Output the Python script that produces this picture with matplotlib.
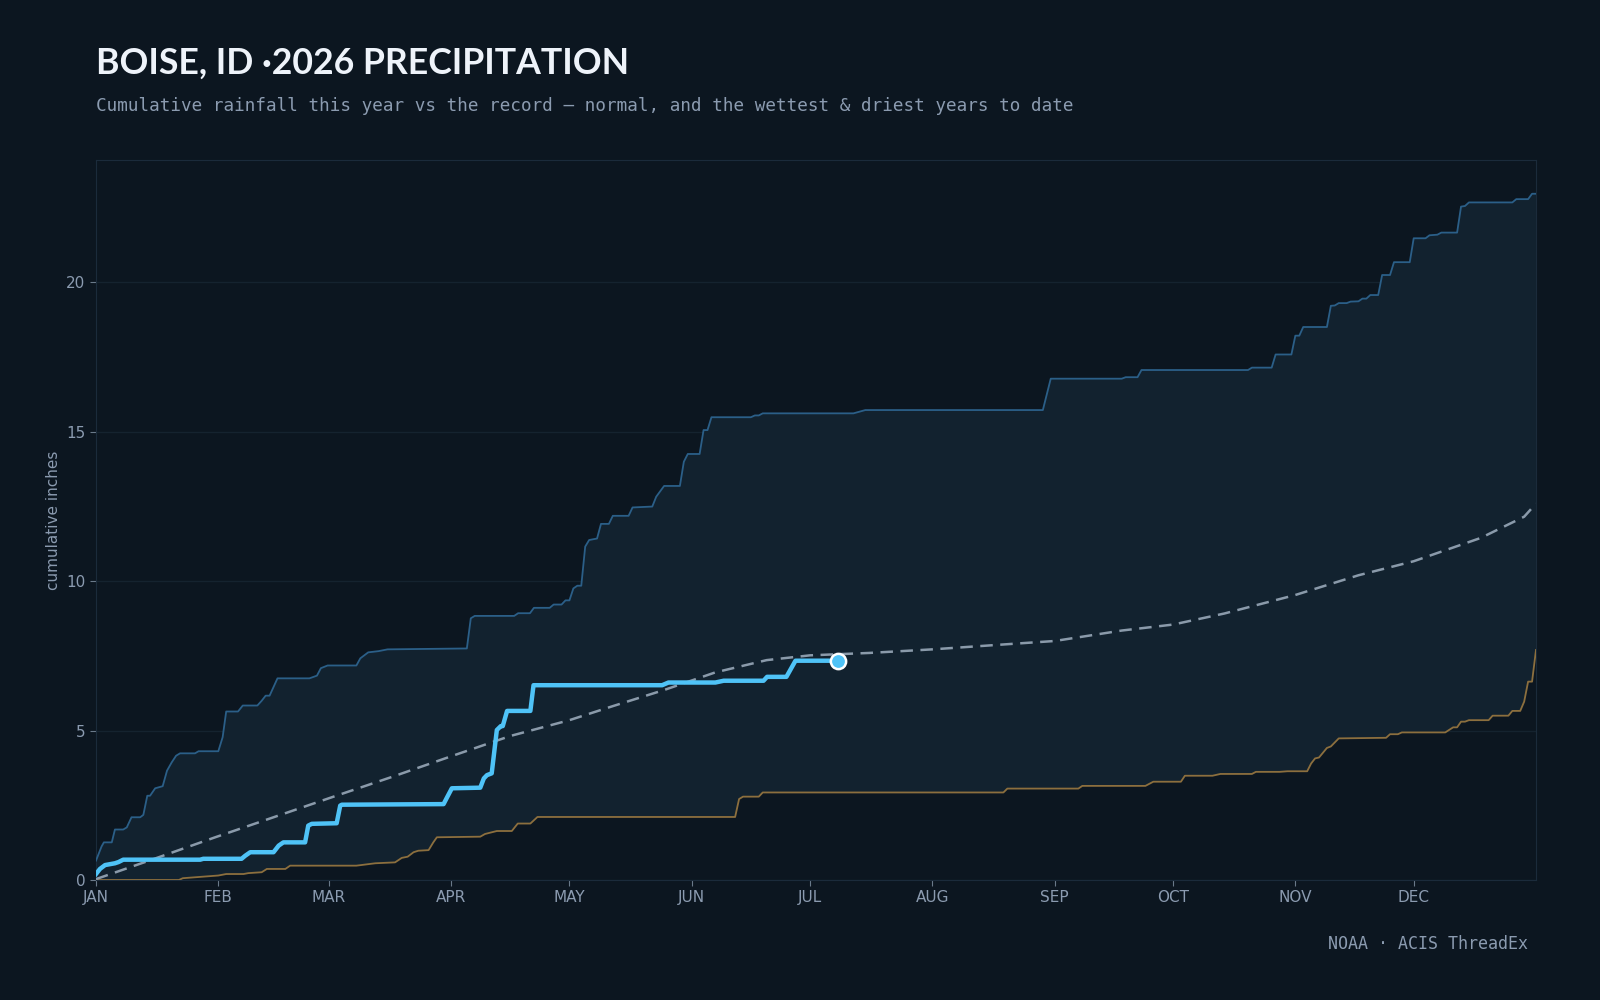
import numpy as np
import matplotlib
matplotlib.use('Agg')
import matplotlib.pyplot as plt

# cumulative precipitation, Boise ID; x = day of year (0 = Jan 1), y = inches

# wettest year to date (upper edge of the record band)
wet_days = [0, 1.4, 2, 4, 4.8, 6.9, 7.8, 9, 11.2, 12, 13, 13.7, 15, 16.9, 18, 19.2, 20.3, 21.3, 25.1, 26,
            31, 32.1, 33, 36, 37.2, 40.9, 42, 43, 44, 46, 54.1, 56, 57, 58.7, 66, 67, 69, 71.6, 73.9, 94,
            95, 96, 106, 107, 110, 111, 115, 116, 118, 119, 120, 121, 122, 123, 124, 125, 127, 128, 130, 131,
            135, 136, 141, 142, 144, 148, 149, 150, 153, 154, 155, 156, 166, 167, 168, 169, 192, 195, 240, 242,
            260, 261, 264, 265, 292, 293, 298, 299, 303, 304, 305, 306, 312, 313, 314, 315, 317, 318, 320, 321,
            322, 323, 325, 326, 328, 329, 333, 334, 337, 338, 340, 341, 345, 346, 347, 348, 359, 360, 363, 364, 365]
wet_vals = [0.65, 1.12, 1.26, 1.26, 1.69, 1.69, 1.76, 2.10, 2.10, 2.18, 2.82, 2.82, 3.07, 3.14, 3.66, 3.94, 4.16, 4.24, 4.24, 4.31,
            4.31, 4.78, 5.64, 5.64, 5.84, 5.84, 6.00, 6.17, 6.17, 6.75, 6.75, 6.84, 7.09, 7.18, 7.18, 7.42, 7.62, 7.66, 7.72, 7.75,
            8.76, 8.84, 8.84, 8.93, 8.93, 9.11, 9.11, 9.22, 9.22, 9.36, 9.36, 9.76, 9.85, 9.85, 11.16, 11.38, 11.43, 11.92, 11.92, 12.19,
            12.19, 12.47, 12.50, 12.83, 13.19, 13.19, 14.00, 14.26, 14.26, 15.06, 15.06, 15.49, 15.49, 15.55, 15.55, 15.62, 15.62, 15.73, 15.73, 16.78,
            16.78, 16.83, 16.83, 17.07, 17.07, 17.15, 17.15, 17.59, 17.59, 18.22, 18.22, 18.51, 18.51, 19.22, 19.23, 19.31, 19.31, 19.36, 19.37, 19.46,
            19.46, 19.58, 19.58, 20.25, 20.25, 20.68, 20.68, 21.48, 21.48, 21.58, 21.60, 21.67, 21.67, 22.54, 22.56, 22.68, 22.68, 22.79, 22.79, 22.97, 22.97]

# driest year to date (lower edge of the record band)
dry_days = [0, 21, 22, 27, 31, 33, 37.4, 38.6, 42, 43.3, 48, 49.2, 66, 70.8, 75.8, 77.5, 79, 80.5, 81.7, 84.3,
            85.5, 86.4, 97.4, 98.6, 101.6, 105.4, 106.9, 110.1, 111.9, 162, 163, 164, 168, 169, 230, 231, 249, 250, 266, 268,
            275, 276, 283, 285, 293, 294, 300, 302, 307, 308, 309, 310, 312, 313, 315, 327, 328, 330, 331, 342,
            344, 345, 346, 347, 348, 353, 354, 358, 359, 361, 362, 363, 364, 365]
dry_vals = [0.00, 0.00, 0.06, 0.11, 0.15, 0.20, 0.20, 0.23, 0.26, 0.37, 0.37, 0.48, 0.48, 0.56, 0.59, 0.74, 0.78, 0.93, 0.98, 1.00,
            1.26, 1.43, 1.45, 1.54, 1.64, 1.64, 1.89, 1.89, 2.11, 2.11, 2.71, 2.79, 2.79, 2.93, 2.93, 3.06, 3.06, 3.15, 3.15, 3.29,
            3.29, 3.49, 3.49, 3.55, 3.55, 3.62, 3.62, 3.64, 3.64, 3.90, 4.07, 4.10, 4.42, 4.47, 4.74, 4.76, 4.88, 4.88, 4.94, 4.94,
            5.11, 5.11, 5.30, 5.30, 5.35, 5.35, 5.50, 5.50, 5.66, 5.66, 5.97, 6.64, 6.64, 7.70]

# 30-year normal
normal_days = [0, 15, 30, 45, 60, 75, 90, 105, 120, 131, 144, 157, 170, 181, 196, 212, 234, 243,
               260, 273, 286, 304, 320, 334, 351, 362, 365]
normal_vals = [0.03, 0.72, 1.42, 2.10, 2.78, 3.45, 4.14, 4.82, 5.35, 5.82, 6.36, 6.95, 7.36, 7.52, 7.60, 7.72, 7.92, 8.00,
               8.35, 8.55, 8.92, 9.54, 10.20, 10.67, 11.45, 12.16, 12.60]

# 2026 so far
year_days = [0, 1, 2.3, 4.8, 5.7, 6.9, 26.4, 27.2, 36.9, 37.8, 39.1, 45, 46.3, 47.5, 53, 53.8, 54.7, 61, 61.9, 62.3,
             88.1, 89, 90.2, 97.4, 98.3, 99.1, 100.3, 101.6, 102.6, 103.1, 104.2, 110.1, 110.9, 143.5, 145.1, 157, 159.1, 169.2, 170.1, 175,
             177.3, 188.2]
year_vals = [0.20, 0.37, 0.50, 0.56, 0.60, 0.68, 0.68, 0.71, 0.71, 0.81, 0.93, 0.93, 1.15, 1.26, 1.26, 1.82, 1.88, 1.90, 2.49, 2.52,
             2.54, 2.77, 3.07, 3.09, 3.40, 3.51, 3.57, 5.02, 5.15, 5.15, 5.66, 5.66, 6.52, 6.52, 6.61, 6.61, 6.67, 6.67, 6.80, 6.80,
             7.34, 7.34]

month_starts = [0, 31, 59, 90, 120, 151, 181, 212, 243, 273, 304, 334]
month_labels = ['JAN', 'FEB', 'MAR', 'APR', 'MAY', 'JUN', 'JUL', 'AUG', 'SEP', 'OCT', 'NOV', 'DEC']
y_ticks = [0, 5, 10, 15, 20]

# colours
bg = '#0c1620'
band_fill = '#12222f'
wet_color = '#2b5f88'
dry_color = '#8c6f3e'
year_color = '#4fc3f7'
normal_color = '#8a9aaa'
muted = '#8b9bb0'
frame = '#1b2b3b'

fig = plt.figure(figsize=(16, 10), dpi=100, facecolor=bg)
ax = fig.add_axes([0.06, 0.12, 0.90, 0.72])
ax.set_facecolor(bg)

# record band between driest and wettest
band_x = wet_days + dry_days[::-1]
band_y = wet_vals + dry_vals[::-1]
ax.fill(band_x, band_y, color=band_fill, lw=0, zorder=1)

ax.plot(wet_days, wet_vals, color=wet_color, lw=1.3, zorder=3)
ax.plot(dry_days, dry_vals, color=dry_color, lw=1.3, zorder=3)
ax.plot(normal_days, normal_vals, color=normal_color, lw=1.8, dashes=(5, 3), zorder=4)
ax.plot(year_days, year_vals, color=year_color, lw=3.2, solid_joinstyle='round', zorder=5)
ax.plot(year_days[-1], year_vals[-1], 'o', ms=11, mfc=year_color, mec='white', mew=1.8, zorder=6)

ax.set_xlim(0, 365)
ax.set_ylim(0, 24.1)
ax.set_xticks(month_starts)
ax.set_xticklabels(month_labels)
ax.set_yticks(y_ticks)
ax.grid(axis='y', color='#15232f', lw=1)
ax.set_axisbelow(True)
ax.tick_params(colors=muted, labelsize=11, length=4, color='#6a7a8a')
for s in ax.spines.values():
    s.set_color(frame)
ax.set_ylabel('cumulative inches', color=muted, fontsize=11, labelpad=4)

fig.text(0.06, 0.9265, 'BOISE, ID ·2026 PRECIPITATION', fontsize=25.7, fontweight='bold',
         family=['Lato', 'DejaVu Sans'], color='#eef3fa', va='baseline')
fig.text(0.06, 0.894, 'Cumulative rainfall this year vs the record \u2014 normal, and the wettest & driest years to date',
         fontsize=12.7, family='DejaVu Sans Mono', color=muted, va='center')
fig.text(0.955, 0.056, 'NOAA · ACIS ThreadEx', fontsize=12, family='DejaVu Sans Mono', color=muted,
         ha='right', va='center')

fig.savefig('out.png', dpi=100, facecolor=bg)
